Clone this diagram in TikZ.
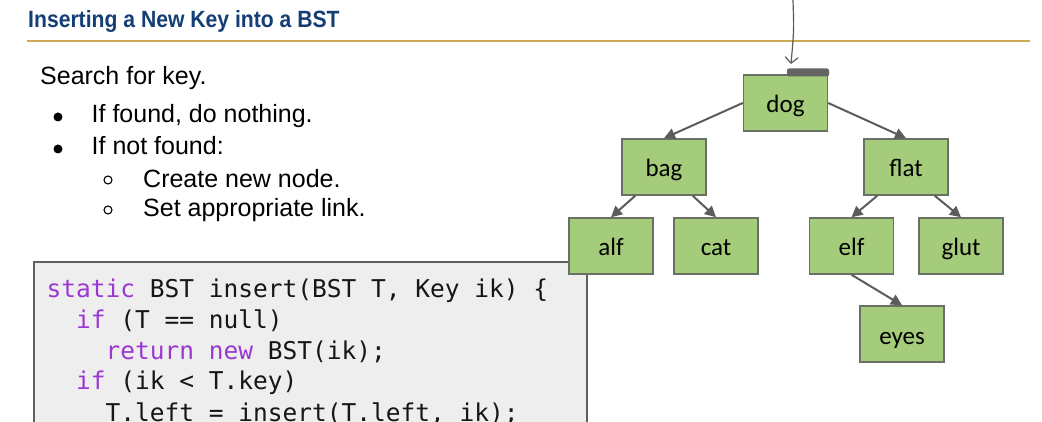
\documentclass[tikz,border=0pt]{standalone}
\usepackage{fontspec}
\setmainfont{Liberation Sans}
\newfontfamily\titlefont[FakeStretch=0.9]{Liberation Sans Bold}
\newfontfamily\codefont{DejaVu Sans Mono}
\newfontfamily\keyfont{Carlito}
\usetikzlibrary{arrows.meta}
\definecolor{titleblue}{RGB}{20,62,118}
\definecolor{gold}{RGB}{204,170,84}
\definecolor{nodegreen}{RGB}{164,204,122}
\definecolor{nodeborder}{RGB}{105,112,100}
\definecolor{edgegray}{RGB}{92,92,92}
\definecolor{codebg}{RGB}{238,238,238}
\definecolor{codeborder}{RGB}{95,95,95}
\definecolor{kw}{RGB}{155,55,210}
\definecolor{codeink}{RGB}{22,22,22}
\definecolor{tipgray}{RGB}{100,100,100}
\newcommand{\kwd}[1]{\textcolor{kw}{#1}}
\tikzset{
  bstnode/.style={draw=nodeborder, line width=1.5pt, fill=nodegreen,
    minimum width=84pt, minimum height=56pt, inner sep=0pt,
    text height=20pt, text depth=0pt, font=\keyfont\fontsize{25}{28}\selectfont},
  edge/.style={draw=edgegray, line width=2pt, -{Triangle[length=11pt,width=11pt]}},
  bodytext/.style={anchor=base west, inner sep=0pt, font=\fontsize{25}{28}\selectfont},
  codeline/.style={anchor=base west, inner sep=0pt, text=codeink, font=\codefont\fontsize{24.5}{28}\selectfont},
}
\begin{document}
\begin{tikzpicture}[x=1pt,y=-1pt]
\useasboundingbox (0,0) rectangle (1042,422);
\fill[white] (0,0) rectangle (1042,422);
% title
\node[anchor=base west, inner sep=0pt, text=titleblue, font=\titlefont\fontsize{23.5}{26}\selectfont] (title) at (28,28) {Inserting a New Key into a BST};
\draw[gold, line width=2.5pt] (27,41) -- (1030,41);
% bullets
\node[bodytext] (t0) at (40,85) {Search for key.};
\fill (58,117) circle (4.5);
\node[bodytext] (t1) at (91.5,123) {If found, do nothing.};
\fill (58,149) circle (4.5);
\node[bodytext] (t2) at (91.5,155) {If not found:};
\draw[line width=1.1pt] (108,180) circle (4);
\node[bodytext] (t3) at (143,188) {Create new node.};
\draw[line width=1.1pt] (108,210) circle (4);
\node[bodytext] (t4) at (143,217) {Set appropriate link.};
% code box
\draw[codeborder, fill=codebg, line width=1.5pt] (34,262) rectangle (587,440);
\node[codeline] (c1) at (46.5,298) {\kwd{static} BST insert(BST T, Key ik) \{};
\node[codeline] (c2) at (76,328.5) {\kwd{if} (T == null)};
\node[codeline] (c3) at (105.5,359) {\kwd{return} \kwd{new} BST(ik);};
\node[codeline] (c4) at (76,389.5) {\kwd{if} (ik < T.key)};
\node[codeline] (c5) at (105.5,421) {T.left = insert(T.left, ik);};
% tree
\node[bstnode] (dog) at (785.5,103) {dog};
\node[bstnode] (bag) at (664,167) {bag};
\node[bstnode] (flat) at (906,167) {flat};
\node[bstnode] (alf) at (611,246) {alf};
\node[bstnode] (cat) at (716,246) {cat};
\node[bstnode] (elf) at (851.5,246) {elf};
\node[bstnode] (glut) at (961,246) {glut};
\node[bstnode] (eyes) at (902,334) {eyes};
\path[edge] (dog.west) -- (bag.north);
\path[edge] (dog.east) -- (flat.north);
\path[edge] (bag.225) -- (alf.north);
\path[edge] (bag.315) -- (cat.north);
\path[edge] (flat.225) -- (elf.north);
\path[edge] (flat.315) -- (glut.north);
\path[edge] (elf.south) -- (eyes.north);
% incoming pointer
\coordinate (ptop) at (793,0);
\coordinate (ptip) at (791,64);
\draw[edgegray, line width=1.2pt, -{Straight Barb[length=6pt,width=13pt]}] (ptop) .. controls (794,30) .. (ptip);
\fill[tipgray, rounded corners=2pt] (787,68.5) rectangle (829,76.5);
\end{tikzpicture}
\end{document}
